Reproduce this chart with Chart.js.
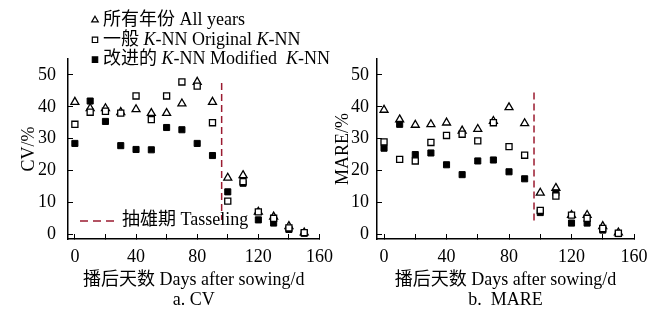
<!DOCTYPE html>
<html>
<head>
<meta charset="utf-8">
<script src="https://cdn.jsdelivr.net/npm/chart.js@4.4.1/dist/chart.umd.min.js"></script>
<style>
  html, body { margin: 0; padding: 0; background: #fff; }
  #wrap { position: relative; width: 665px; height: 313px; overflow: hidden; }
  #wrap canvas { position: absolute; top: 0; }
  #cv { left: 0; }
  #mare { left: 330px; }
</style>
</head>
<body>
<div id="wrap">
  <canvas id="cv" width="345" height="313"></canvas>
  <canvas id="mare" width="335" height="313"></canvas>
</div>
<script>
// sampling days (days after sowing)
const days = [0, 10, 20, 30, 40, 50, 60, 70, 80, 90, 100, 110, 120, 130, 140, 150];

// CV/% panel
const cvAllYears = [41.5, 39.5, 39.5, 38.3, 39.2, 38, 38, 41, 47.8, 41.5, 17.7, 18.5, 7, 5.5, 2.5, 0.5];
const cvOriginal = [34.5, 38.3, 38.6, 38, 43.4, 36, 43.4, 47.8, 46.5, 35, 10.4, 16.5, 7, 5, 2, 0.5];
const cvModified = [28.5, 41.8, 35.4, 27.8, 26.6, 26.5, 33.5, 32.8, 28.5, 24.7, 13.3, 16, 4.5, 3.5, 1.5, 0.3];

// MARE/% panel
const mareAllYears = [39, 36, 34.3, 34.5, 35, 32.5, 33, 35.5, 39.8, 34.8, 13, 14.5, 6, 6, 2.5, 0.5];
const mareOriginal = [29, 23.5, 23, 28.8, 31, 31.4, 29.3, 35, 27.5, 24.8, 7.5, 12, 6, 5, 1.8, 0.3];
const mareModified = [27, 34.5, 25, 25.5, 21.8, 18.7, 23, 23.3, 19.6, 17.4, 6.8, 13, 3.5, 3.5, 1.3, 0.2];

// tasseling marker (day) and the span of the dashed line on each panel
const tasselingDay = 96;
const cvTasselSpan = [47.5, 4.5];
const mareTasselSpan = [44.5, 3.5];

// axis ticks
const xTickValues = [0, 20, 40, 60, 80, 100, 120, 140, 160];
const xLabelEvery = 40;
const yTickValues = [0, 10, 20, 30, 40, 50];

const serif = "'Liberation Serif', 'Noto Sans CJK SC', serif";
const tasselColor = '#9b1b30';

Chart.defaults.font.family = serif;
Chart.defaults.font.size = 18;
Chart.defaults.color = '#000';

function points(values) {
    return days.map((d, i) => ({ x: d, y: values[i] }));
}

function makeDatasets(all, original, modified, span) {
    return [
        {
            label: 'Original K-NN',
            data: points(original),
            pointStyle: 'rect',
            pointRadius: 4.3,
            pointBorderWidth: 1.3,
            backgroundColor: '#fff',
            borderColor: '#000',
            order: 1
        },
        {
            label: 'Modified K-NN',
            data: points(modified),
            pointStyle: 'rect',
            pointRadius: 4.3,
            pointBorderWidth: 1,
            backgroundColor: '#000',
            borderColor: '#000',
            order: 2
        },
        {
            label: 'All years',
            data: points(all),
            pointStyle: 'triangle',
            pointRadius: 4.6,
            pointBorderWidth: 1.3,
            backgroundColor: '#fff',
            borderColor: '#000',
            order: 3
        },
        {
            label: 'Tasseling',
            data: span.map(v => ({ x: tasselingDay, y: v })),
            showLine: true,
            borderColor: tasselColor,
            borderWidth: 1.5,
            borderDash: [7, 4],
            pointRadius: 0,
            order: 4
        }
    ];
}

function makeOptions(yTitle, panelTitle, yAxisWidth, yTitlePad, yLabelPad, rightPad) {
    return {
        responsive: false,
        animation: false,
        events: [],
        layout: { padding: { top: 59, left: 0, right: rightPad, bottom: 0 } },
        plugins: { legend: { display: false }, tooltip: { enabled: false } },
        scales: {
            x: {
                type: 'linear',
                min: -4.5,
                max: 160,
                afterBuildTicks: s => { s.ticks = xTickValues.map(v => ({ value: v })); },
                afterFit: s => { s.height = 74; },
                grid: { drawOnChartArea: false, tickLength: -5, color: '#000', lineWidth: 1 },
                border: { display: true, color: '#000', width: 1.5 },
                ticks: {
                    padding: 12,
                    maxRotation: 0,
                    autoSkip: false,
                    callback: v => (v % xLabelEvery === 0 ? String(v) : '')
                },
                title: {
                    display: true,
                    text: ['播后天数 Days after sowing/d', panelTitle],
                    font: { size: 18, lineHeight: 1.15 },
                    padding: { top: 0, bottom: 2 }
                }
            },
            y: {
                type: 'linear',
                min: -1.5,
                max: 55,
                afterBuildTicks: s => { s.ticks = yTickValues.map(v => ({ value: v })); },
                afterFit: s => { s.width = yAxisWidth; },
                grid: { drawOnChartArea: false, tickLength: -5, color: '#000', lineWidth: 1 },
                border: { display: true, color: '#000', width: 1.5 },
                ticks: { padding: yLabelPad, callback: v => String(v) },
                title: {
                    display: true,
                    text: yTitle,
                    font: { size: 18, lineHeight: 1.15 },
                    padding: { top: yTitlePad, bottom: 0 }
                }
            }
        }
    };
}

// writes a line of mixed upright / italic text
function drawRuns(ctx, x, y, runs) {
    ctx.textBaseline = 'middle';
    ctx.textAlign = 'left';
    ctx.fillStyle = '#000';
    runs.forEach(([text, italic]) => {
        ctx.font = (italic ? 'italic ' : '') + '18px ' + serif;
        ctx.fillText(text, x, y);
        x += ctx.measureText(text).width;
    });
}

// key for the three series (top) and for the tasseling line (bottom)
const keyPlugin = {
    id: 'keyBox',
    afterDraw(chart) {
        const ctx = chart.ctx;
        ctx.save();
        const rows = [
            { style: 'triangle', fill: '#fff', runs: [['所有年份 All years', false]] },
            { style: 'rect', fill: '#fff', runs: [['一般 ', false], ['K', true], ['-NN Original ', false], ['K', true], ['-NN', false]] },
            { style: 'rect', fill: '#000', runs: [['改进的 ', false], ['K', true], ['-NN Modified  ', false], ['K', true], ['-NN', false]] }
        ];
        rows.forEach((row, i) => {
            const y = 20 + i * 19.8;
            ctx.fillStyle = row.fill;
            ctx.strokeStyle = '#000';
            ctx.lineWidth = 1.2;
            Chart.helpers.drawPoint(ctx, { pointStyle: row.style, radius: 3.8, borderWidth: 1.2 }, 95, y);
            drawRuns(ctx, 103, y, row.runs);
        });

        ctx.strokeStyle = tasselColor;
        ctx.lineWidth = 1.5;
        ctx.setLineDash([8, 5]);
        ctx.beginPath();
        ctx.moveTo(80, 221);
        ctx.lineTo(115, 221);
        ctx.stroke();
        ctx.setLineDash([]);
        drawRuns(ctx, 122, 220, [['抽雄期 Tasseling', false]]);
        ctx.restore();
    }
};

new Chart(document.getElementById('cv'), {
    type: 'scatter',
    data: { datasets: makeDatasets(cvAllYears, cvOriginal, cvModified, cvTasselSpan) },
    options: makeOptions('CV/%', 'a. CV', 68, 19, 17, 17),
    plugins: [keyPlugin]
});

new Chart(document.getElementById('mare'), {
    type: 'scatter',
    data: { datasets: makeDatasets(mareAllYears, mareOriginal, mareModified, mareTasselSpan) },
    options: makeOptions('MARE/%', 'b.  MARE', 47, 3, 13, 31)
});
</script>
</body>
</html>
